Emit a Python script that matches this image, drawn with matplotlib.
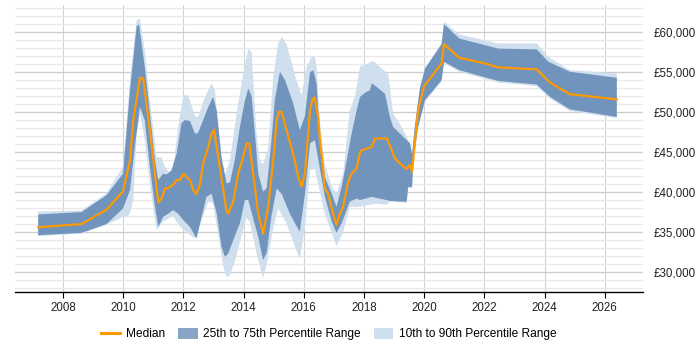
import numpy as np
import matplotlib
matplotlib.use("Agg")
import matplotlib.pyplot as plt
from matplotlib.patches import Patch
from matplotlib.lines import Line2D
from matplotlib.ticker import FuncFormatter, MultipleLocator

plt.rcParams['font.family'] = ['Liberation Sans', 'DejaVu Sans']
plt.rcParams['font.size'] = 8.3

# median salary
med_years = [2007.18, 2008.62, 2009.45, 2010.00, 2010.23, 2010.34, 2010.56, 2010.67, 2010.89, 2011.17,
             2011.28, 2011.39, 2011.50, 2011.66, 2011.78, 2011.89, 2012.00, 2012.22, 2012.33, 2012.44,
             2012.55, 2012.66, 2012.83, 2012.94, 2013.02, 2013.16, 2013.33, 2013.44, 2013.49, 2013.66,
             2013.82, 2013.99, 2014.11, 2014.19, 2014.32, 2014.49, 2014.65, 2014.82, 2014.99, 2015.10,
             2015.19, 2015.27, 2015.43, 2015.65, 2015.82, 2015.93, 2016.04, 2016.21, 2016.30, 2016.37,
             2016.48, 2016.54, 2016.65, 2016.70, 2016.81, 2016.93, 2017.09, 2017.20, 2017.31, 2017.48,
             2017.59, 2017.76, 2017.87, 2017.92, 2018.26, 2018.37, 2018.77, 2019.03, 2019.25, 2019.42,
             2019.53, 2019.60, 2019.69, 2019.80, 2020.00, 2020.58, 2020.66, 2021.17, 2022.02, 2022.46,
             2023.74, 2024.18, 2024.84, 2026.40]
med_vals = [35600, 36000, 37800, 40100, 44000, 49000, 54300, 54200, 47750, 38700,
            39200, 40450, 40500, 40900, 41500, 41500, 42300, 41500, 40250, 39750,
            40900, 43600, 45650, 47300, 47800, 44400, 40250, 37550, 37300, 38800,
            42300, 44400, 46100, 46100, 42300, 37300, 34800, 38200, 44000, 49000,
            50100, 50000, 47750, 44800, 41900, 40700, 42300, 50250, 51700, 51800,
            49400, 46500, 42750, 40450, 39800, 37950, 35900, 37300, 38200, 41300,
            42300, 42950, 45000, 45200, 45650, 46700, 46700, 44200, 43400, 42900,
            43400, 42550, 46100, 50250, 53250, 56100, 58500, 56800, 56100, 55600,
            55350, 53700, 52250, 51600]

# 75th percentile
q75_years = [2007.18, 2008.62, 2009.45, 2010.00, 2010.23, 2010.45, 2010.53, 2010.72, 2010.89, 2011.06,
             2011.17, 2011.33, 2011.45, 2011.61, 2011.78, 2011.94, 2012.05, 2012.22, 2012.39, 2012.49,
             2012.66, 2012.83, 2012.99, 2013.11, 2013.27, 2013.44, 2013.55, 2013.71, 2013.88, 2014.05,
             2014.16, 2014.27, 2014.38, 2014.49, 2014.65, 2014.77, 2014.93, 2015.04, 2015.21, 2015.38,
             2015.65, 2015.87, 2016.04, 2016.21, 2016.32, 2016.43, 2016.54, 2016.70, 2016.93, 2017.09,
             2017.26, 2017.43, 2017.59, 2017.76, 2017.87, 2018.03, 2018.20, 2018.26, 2018.37, 2018.70,
             2018.86, 2018.97, 2019.20, 2019.53, 2019.60, 2019.69, 2019.86, 2020.03, 2020.58, 2020.66,
             2021.17, 2022.46, 2023.74, 2024.13, 2024.84, 2026.40]
q75_vals = [37200, 37500, 39600, 42300, 52750, 60700, 61000, 55650, 49850, 44000,
            41500, 42300, 42200, 42750, 44800, 48600, 49000, 48900, 47300, 47400,
            49000, 50650, 51900, 50250, 44400, 41100, 41200, 44000, 48150, 51500,
            52950, 52000, 47300, 42300, 40050, 40500, 46500, 51500, 55050, 54000,
            51100, 47750, 49500, 55000, 55250, 53500, 46500, 41900, 39800, 38150,
            40650, 44000, 47300, 50250, 51900, 52400, 52750, 53600, 53300, 52300,
            49400, 48150, 47300, 46100, 44800, 48150, 53000, 55450, 58500, 61000,
            59200, 57950, 57850, 56300, 55050, 54300]

# 25th percentile
q25_years = [2007.18, 2008.62, 2009.45, 2010.00, 2010.23, 2010.40, 2010.56, 2010.72, 2010.89, 2011.06,
             2011.17, 2011.33, 2011.50, 2011.66, 2011.83, 2012.00, 2012.22, 2012.44, 2012.61, 2012.77,
             2012.94, 2013.11, 2013.27, 2013.38, 2013.49, 2013.66, 2013.88, 2014.05, 2014.16, 2014.32,
             2014.49, 2014.65, 2014.77, 2014.93, 2015.10, 2015.27, 2015.54, 2015.71, 2015.87, 2016.04,
             2016.21, 2016.37, 2016.43, 2016.70, 2016.93, 2017.09, 2017.26, 2017.53, 2017.76, 2017.87,
             2018.26, 2018.75, 2018.86, 2019.20, 2019.42, 2019.47, 2019.60, 2019.64, 2019.80, 2020.03,
             2020.58, 2020.66, 2021.17, 2022.46, 2023.74, 2024.18, 2024.84, 2026.40]
q25_vals = [34600, 34900, 36000, 37950, 40250, 46000, 50650, 49000, 43150, 38150,
            35650, 36900, 37300, 37750, 37300, 36500, 35650, 34200, 36900, 39400,
            39800, 37300, 33150, 31900, 32300, 34000, 36100, 39000, 39000, 36750,
            34400, 31500, 32400, 37000, 40450, 39750, 37300, 36100, 35050, 39750,
            46100, 46500, 45250, 39500, 36300, 34900, 36100, 38800, 39200, 39000,
            39400, 39000, 38900, 38800, 38800, 40650, 40650, 44000, 48150, 51500,
            54000, 56300, 55250, 53900, 53450, 51900, 50350, 49400]

# 90th percentile
p90_years = [2007.18, 2008.62, 2009.45, 2010.00, 2010.23, 2010.45, 2010.56, 2010.72, 2010.89, 2011.11,
             2011.28, 2011.39, 2011.55, 2011.66, 2011.83, 2012.00, 2012.16, 2012.39, 2012.49, 2012.72,
             2012.94, 2013.05, 2013.16, 2013.33, 2013.38, 2013.55, 2013.77, 2013.99, 2014.16, 2014.27,
             2014.43, 2014.54, 2014.65, 2014.82, 2014.99, 2015.15, 2015.27, 2015.43, 2015.76, 2015.93,
             2016.10, 2016.26, 2016.37, 2016.43, 2016.54, 2016.70, 2016.93, 2017.09, 2017.31, 2017.53,
             2017.70, 2017.87, 2018.03, 2018.31, 2018.59, 2018.81, 2018.97, 2019.20, 2019.53, 2019.60,
             2019.69, 2019.86, 2020.03, 2020.58, 2020.66, 2021.17, 2022.46, 2023.74, 2024.13, 2024.84,
             2026.40]
p90_vals = [37550, 37700, 39850, 43200, 54000, 61500, 61700, 57750, 51500, 44400,
            44300, 43200, 42300, 42800, 48150, 52100, 52100, 49500, 49400, 51900,
            53600, 52750, 47300, 41500, 42100, 44000, 49800, 54800, 57950, 57500,
            47300, 44000, 43500, 45500, 54400, 58600, 59400, 58500, 54000, 52100,
            55700, 56900, 57000, 55700, 48500, 43500, 40700, 39800, 42300, 50250,
            51900, 55700, 55900, 56400, 55450, 54750, 49800, 48500, 46100, 44800,
            48150, 53150, 55450, 58600, 61300, 59700, 58600, 58600, 56900, 55250,
            54850]

# 10th percentile
p10_years = [2007.18, 2008.62, 2009.45, 2010.00, 2010.12, 2010.23, 2010.34, 2010.45, 2010.56, 2010.72,
             2010.89, 2011.11, 2011.33, 2011.66, 2011.89, 2012.16, 2012.39, 2012.61, 2012.83, 2012.99,
             2013.16, 2013.33, 2013.44, 2013.55, 2013.71, 2013.94, 2014.10, 2014.21, 2014.43, 2014.65,
             2014.77, 2014.99, 2015.15, 2015.43, 2015.71, 2015.87, 2016.04, 2016.21, 2016.37, 2016.54,
             2016.70, 2017.09, 2017.31, 2017.53, 2017.81, 2018.42, 2018.75, 2018.86, 2019.20, 2019.42,
             2019.47, 2019.60, 2019.64, 2019.80, 2020.03, 2020.58, 2020.66, 2021.17, 2022.46, 2023.74,
             2024.18, 2024.84, 2026.40]
p10_vals = [34500, 34800, 35900, 36900, 36900, 37350, 39000, 47000, 49850, 46500,
            41000, 35250, 36300, 37000, 35700, 34800, 34200, 36500, 38800, 38600,
            34600, 30650, 29350, 29600, 31250, 34650, 36750, 36300, 32400, 29200,
            31000, 35500, 37950, 36100, 33150, 31700, 35500, 42750, 42900, 40000,
            37300, 33250, 35000, 38150, 38150, 38550, 38400, 38800, 38800, 38600,
            40500, 40500, 43800, 48000, 51300, 53850, 56100, 55050, 53700, 53250,
            51700, 50150, 49250]

dark = '#7094bc'
light = '#d0dfee'
orange = '#ff9900'

fig = plt.figure(figsize=(7, 3.5), dpi=100)
ax = fig.add_axes([15/700, 58/350, 628/700, 287/350])

# bands as polygons: upper edge then lower edge reversed
ax.fill(np.concatenate([p90_years, p10_years[::-1]]),
        np.concatenate([p90_vals, p10_vals[::-1]]),
        color=light, lw=0, zorder=2)
ax.fill(np.concatenate([q75_years, q25_years[::-1]]),
        np.concatenate([q75_vals, q25_vals[::-1]]),
        color=dark, lw=0, zorder=3)
ax.plot(med_years, med_vals, color=orange, lw=1.6, zorder=4)

ax.set_xlim(2006.41, 2027.27)
ax.set_ylim(27500, 63400)

ax.xaxis.set_major_locator(MultipleLocator(2))
ax.yaxis.set_major_locator(MultipleLocator(5000))
ax.yaxis.set_minor_locator(MultipleLocator(1000))
ax.yaxis.set_major_formatter(FuncFormatter(lambda v, p: '£{:,.0f}'.format(v)))
ax.yaxis.tick_right()

ax.grid(axis='y', which='major', color='#cccccc', lw=0.9, zorder=0)
ax.grid(axis='y', which='minor', color='#e8e8e8', lw=0.9, zorder=0)
ax.grid(axis='x', which='major', color='#d2d2d2', lw=0.8, zorder=0)
ax.set_axisbelow(True)

for s in ['top', 'left', 'right']:
    ax.spines[s].set_visible(False)
ax.spines['bottom'].set_color('black')
ax.spines['bottom'].set_linewidth(1.0)

ax.tick_params(axis='y', which='both', length=0, pad=8, labelcolor='#222222')
ax.tick_params(axis='x', length=4, width=0.8, color='black', pad=3, labelcolor='#222222')

handles = [Line2D([0], [0], color=orange, lw=2.2),
           Patch(facecolor='#88a5c6', edgecolor='none'),
           Patch(facecolor=light, edgecolor='none')]
labels = ['Median', '25th to 75th Percentile Range', '10th to 90th Percentile Range']
fig.legend(handles, labels, loc='center', bbox_to_anchor=(329/700, 1 - 334/350),
           ncol=3, frameon=False, handlelength=1.6, handleheight=1.1,
           columnspacing=1.1, handletextpad=0.5, fontsize=8.6)

fig.savefig('out.png', dpi=100)
